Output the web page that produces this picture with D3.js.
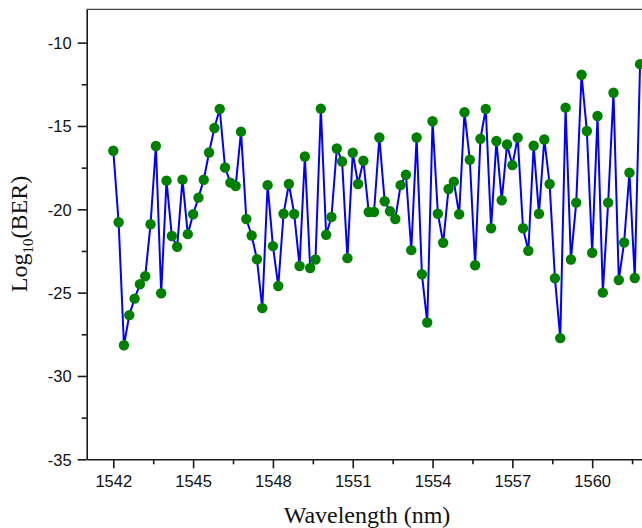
<!DOCTYPE html>
<html>
<head>
<meta charset="utf-8">
<script src="https://cdn.jsdelivr.net/npm/d3@7/dist/d3.min.js"></script>
<style>
  html, body { margin: 0; padding: 0; background: #fff; }
  svg { display: block; }
  .tick text { font-family: "Liberation Sans", Arial, sans-serif; font-size: 16.5px; fill: #111; }
</style>
</head>
<body>
<svg id="chart" width="642" height="528"></svg>
<script>
// Wavelength grid (nm)
const wavelengths = [
  1542.0, 1542.2, 1542.4, 1542.6, 1542.8, 1543.0, 1543.2, 1543.4, 1543.6, 1543.8,
  1544.0, 1544.2, 1544.4, 1544.6, 1544.8, 1545.0, 1545.2, 1545.4, 1545.6, 1545.8,
  1546.0, 1546.2, 1546.4, 1546.6, 1546.8, 1547.0, 1547.2, 1547.4, 1547.6, 1547.8,
  1548.0, 1548.2, 1548.4, 1548.6, 1548.8, 1549.0, 1549.2, 1549.4, 1549.6, 1549.8,
  1550.0, 1550.2, 1550.4, 1550.6, 1550.8, 1551.0, 1551.2, 1551.4, 1551.6, 1551.8,
  1552.0, 1552.2, 1552.4, 1552.6, 1552.8, 1553.0, 1553.2, 1553.4, 1553.6, 1553.8,
  1554.0, 1554.2, 1554.4, 1554.6, 1554.8, 1555.0, 1555.2, 1555.4, 1555.6, 1555.8,
  1556.0, 1556.2, 1556.4, 1556.6, 1556.8, 1557.0, 1557.2, 1557.4, 1557.6, 1557.8,
  1558.0, 1558.2, 1558.4, 1558.6, 1558.8, 1559.0, 1559.2, 1559.4, 1559.6, 1559.8,
  1560.0, 1560.2, 1560.4, 1560.6, 1560.8, 1561.0, 1561.2, 1561.4, 1561.6, 1561.8
];

// log10(BER) at each wavelength
const logBER = [
  -16.49, -20.78, -28.16, -26.35, -25.36, -24.50, -24.02, -20.90, -16.20, -25.04,
  -18.28, -21.60, -22.25, -18.22, -21.49, -20.30, -19.30, -18.23, -16.59, -15.12,
  -13.98, -17.49, -18.40, -18.60, -15.34, -20.58, -21.57, -23.00, -25.93, -18.55,
  -22.21, -24.60, -20.27, -18.48, -20.28, -23.40, -16.83, -23.52, -23.01, -13.96,
  -21.53, -20.46, -16.35, -17.13, -22.93, -16.61, -18.48, -17.09, -20.16, -20.16,
  -15.69, -19.52, -20.12, -20.58, -18.55, -17.93, -22.45, -15.69, -23.90, -26.79,
  -14.72, -20.27, -22.01, -18.78, -18.34, -20.30, -14.18, -17.03, -23.36, -15.77,
  -13.98, -21.14, -15.90, -19.46, -16.11, -17.35, -15.70, -21.14, -22.49, -16.19,
  -20.27, -15.81, -18.48, -24.14, -27.73, -13.90, -23.01, -19.60, -11.93, -15.30,
  -22.61, -14.40, -25.00, -19.60, -13.01, -24.24, -21.99, -17.80, -24.12, -11.29
];

const xMajorTicks = [1542, 1545, 1548, 1551, 1554, 1557, 1560];
const xMinorTicks = [1543.5, 1546.5, 1549.5, 1552.5, 1555.5, 1558.5, 1561.5];
const yMajorTicks = [-35, -30, -25, -20, -15, -10];
const yMinorTicks = [-32.5, -27.5, -22.5, -17.5, -12.5];

const svg = d3.select("#chart");
const plotLeft = 86.7, plotTop = 9.3, plotBottom = 459.3, plotRight = 672;

const x = d3.scaleLinear().domain([1541, 1563]).range([plotLeft, plotRight]);
const y = d3.scaleLinear().domain([-35, -8]).range([plotBottom, plotTop]);

const axisColor = "#1a1a1a";
const plainNumber = d => String(d);   // ASCII hyphen for negatives

// frame top edge
svg.append("line")
  .attr("x1", plotLeft).attr("x2", plotRight)
  .attr("y1", plotTop).attr("y2", plotTop)
  .attr("stroke", "#444").attr("stroke-width", 1.3);

// x axis
const gx = svg.append("g").attr("transform", `translate(0,${plotBottom})`);
gx.call(d3.axisBottom(x).tickValues(xMajorTicks).tickSize(9).tickSizeOuter(0)
  .tickPadding(5).tickFormat(plainNumber));
const gxm = svg.append("g").attr("transform", `translate(0,${plotBottom})`);
gxm.call(d3.axisBottom(x).tickValues(xMinorTicks).tickSize(5).tickSizeOuter(0).tickFormat(""));
gxm.select(".domain").remove();

// y axis
const gy = svg.append("g").attr("transform", `translate(${plotLeft},0)`);
gy.call(d3.axisLeft(y).tickValues(yMajorTicks).tickSize(9).tickSizeOuter(0)
  .tickPadding(6).tickFormat(plainNumber));
const gym = svg.append("g").attr("transform", `translate(${plotLeft},0)`);
gym.call(d3.axisLeft(y).tickValues(yMinorTicks).tickSize(5).tickSizeOuter(0).tickFormat(""));
gym.select(".domain").remove();

svg.selectAll(".domain, .tick line").attr("stroke", axisColor).attr("stroke-width", 1.6);
gx.selectAll(".tick text").attr("dy", "0.71em").attr("y", 16);
gy.selectAll(".tick text").attr("dy", "0.36em");

// data series
const pts = wavelengths.map((w, i) => [w, logBER[i]]);
svg.append("path")
  .datum(pts)
  .attr("fill", "none")
  .attr("stroke", "#0000ff")
  .attr("stroke-width", 2)
  .attr("stroke-linejoin", "round")
  .attr("d", d3.line().x(d => x(d[0])).y(d => y(d[1])));

svg.append("g").selectAll("circle")
  .data(pts)
  .join("circle")
  .attr("cx", d => x(d[0]))
  .attr("cy", d => y(d[1]))
  .attr("r", 5.2)
  .attr("fill", "#008000");

// axis titles
svg.append("text")
  .attr("x", 367).attr("y", 523)
  .attr("text-anchor", "middle")
  .attr("font-family", "'Liberation Serif', 'Times New Roman', serif")
  .attr("font-size", 24)
  .attr("fill", "#111")
  .text("Wavelength (nm)");

const yTitle = svg.append("text")
  .attr("transform", `translate(27,234) rotate(-90)`)
  .attr("text-anchor", "middle")
  .attr("font-family", "'Liberation Serif', 'Times New Roman', serif")
  .attr("font-size", 24)
  .attr("fill", "#111");
yTitle.append("tspan").text("Log");
yTitle.append("tspan").attr("font-size", 15).attr("dy", 6).text("10");
yTitle.append("tspan").attr("dy", -6).text("(BER)");
</script>
</body>
</html>
